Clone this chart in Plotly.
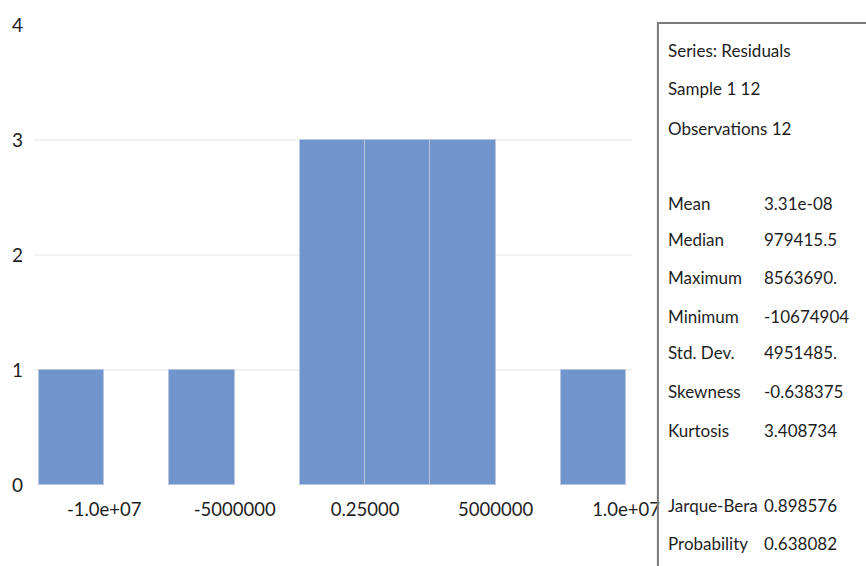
import plotly.graph_objects as go

# ---- data ----
bin_edges = [-12500000, -10000000, -7500000, -5000000, -2500000, 0, 2500000, 5000000, 7500000, 10000000]
counts = [1, 0, 1, 0, 3, 3, 3, 0, 1]
tick_vals = [-10000000, -5000000, 0, 5000000, 10000000]
tick_text = ["-1.0e+07", "-5000000", "0.25000", "5000000", "1.0e+07"]
y_ticks = [0, 1, 2, 3, 4]
grid_levels = [1, 2, 3]

stat_header = ["Series: Residuals", "Sample 1 12", "Observations 12"]
stat_names = ["Mean", "Median", "Maximum", "Minimum", "Std. Dev.", "Skewness", "Kurtosis"]
stat_values = ["3.31e-08", "979415.5", "8563690.", "-10674904", "4951485.", "-0.638375", "3.408734"]
test_names = ["Jarque-Bera", "Probability"]
test_values = ["0.898576", "0.638082"]

bins = [(a, b, c) for a, b, c in zip(bin_edges[:-1], bin_edges[1:], counts) if c > 0]
centers = [(a + b) / 2 for a, b, c in bins]
widths = [b - a for a, b, c in bins]
heights = [c for a, b, c in bins]

FONT = "Lato"
TXT = "#1e1e1e"

fig = go.Figure()
for lv in grid_levels:
    fig.add_hline(y=lv, line=dict(color="#E6E6E6", width=1), layer="below")

fig.add_trace(go.Bar(
    x=centers, y=heights, width=widths,
    marker=dict(color="#7294CC", line=dict(color="#B8C6DE", width=1)),
    showlegend=False,
))

L, R, T, B = 32, 234, 25, 81
W, H = 866, 566
pw = W - L - R
ph = H - T - B
unit = (bin_edges[-1] - bin_edges[0]) / (626 - 37)
x0 = bin_edges[0] - (37 - L) * unit
x1 = bin_edges[-1] + (L + pw - 626) * unit

fig.update_layout(
    width=W, height=H,
    margin=dict(l=L, r=R, t=T, b=B),
    plot_bgcolor="white", paper_bgcolor="white",
    font=dict(family=FONT, color=TXT, size=18),
    bargap=0,
    xaxis=dict(range=[x0, x1], tickvals=tick_vals, ticktext=tick_text,
               showgrid=False, zeroline=False, showline=False, ticks="",
               ticklabelstandoff=11, tickfont=dict(size=18.5)),
    yaxis=dict(range=[0, 4], tickvals=y_ticks, showgrid=False,
               zeroline=False, showline=False,
               ticks="", ticklabelstandoff=10, tickfont=dict(size=19)),
)

def px2x(px):
    return (px - L) / pw

def py2y(py):
    return (H - B - py) / ph

# stats box
fig.add_shape(type="rect", xref="paper", yref="paper",
              x0=px2x(658), x1=px2x(880), y0=py2y(580), y1=py2y(23),
              line=dict(color="#7a7a7a", width=2), fillcolor="rgba(0,0,0,0)")

def txt(s, px, py):
    fig.add_annotation(text=s, xref="paper", yref="paper", x=px2x(px), y=py2y(py),
                       xanchor="left", yanchor="middle", showarrow=False,
                       font=dict(family=FONT, size=17, color=TXT))

for s, py in zip(stat_header, [50, 89, 128]):
    txt(s, 666, py)
for n, v, py in zip(stat_names, stat_values, [203, 240, 277, 316, 352, 391, 430]):
    txt(n, 666, py)
    txt(v, 762, py)
for n, v, py in zip(test_names, test_values, [505, 543]):
    txt(n, 666, py)
    txt(v, 762, py)

fig.write_html("out.html")
